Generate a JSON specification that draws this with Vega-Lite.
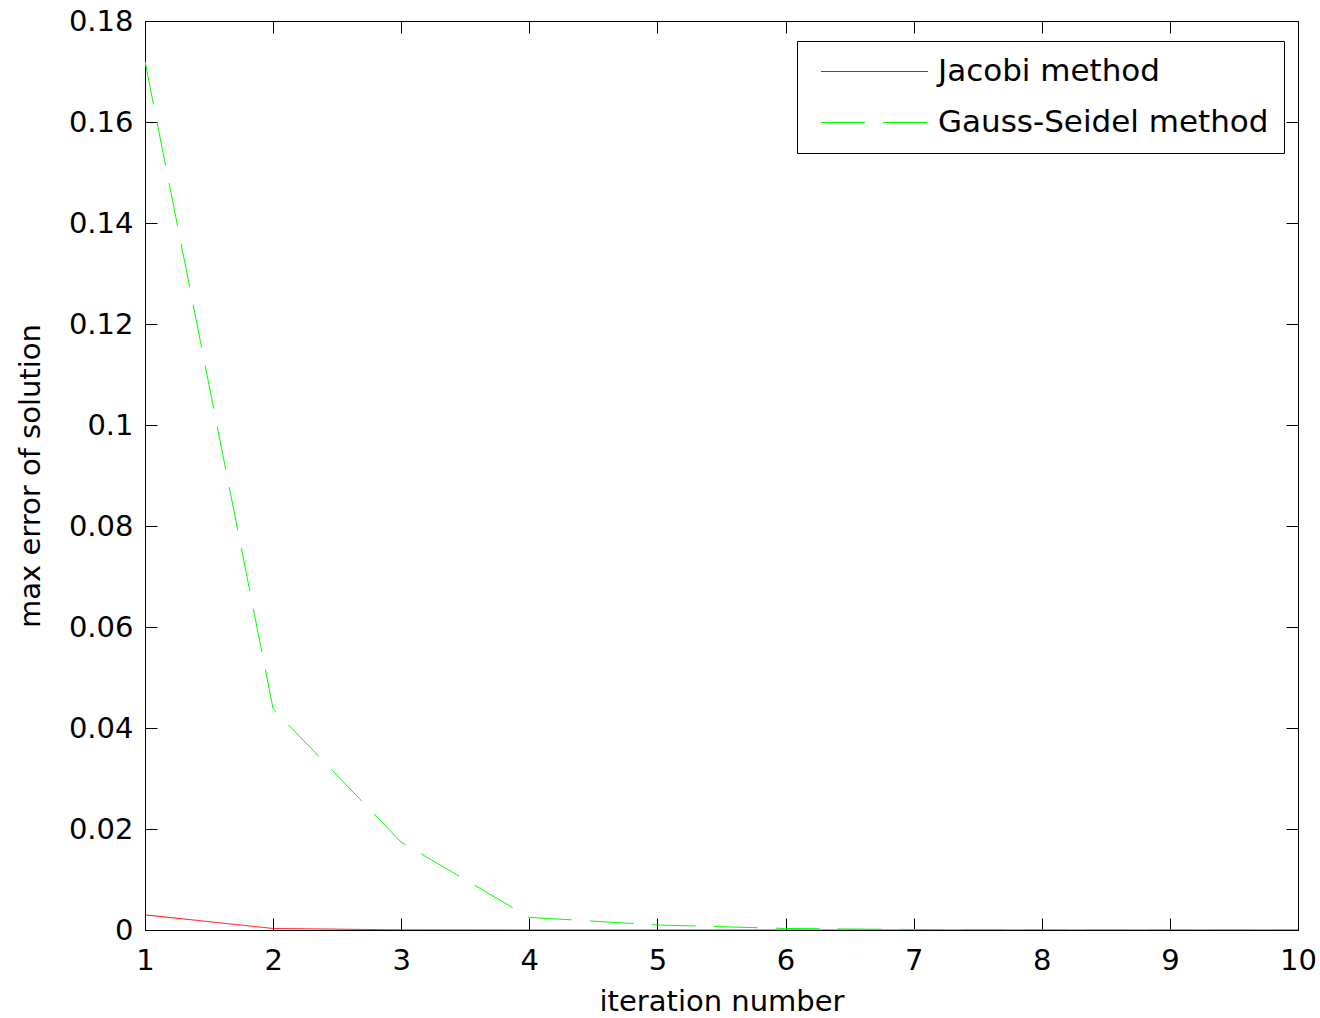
{
  "$schema": "https://vega.github.io/schema/vega-lite/v6.json",
  "width": 1153,
  "height": 909,
  "autosize": {"type": "none"},
  "padding": {"left": 145, "top": 21, "right": 22, "bottom": 88},
  "background": "white",
  "config": {
    "font": "DejaVu Sans",
    "view": {"stroke": "black", "strokeWidth": 1},
    "axis": {"grid": false, "domain": false, "tickColor": "black", "tickSize": -12, "labelFlush": false, "labelColor": "black", "labelFontSize": 29, "labelFont": "DejaVu Sans", "titleFont": "DejaVu Sans", "titleFontSize": 29, "titleFontWeight": "normal", "titleColor": "black"}
  },
  "data": {"values": [
    {"x": 1, "method": "Jacobi method", "v": 0.003},
    {"x": 2, "method": "Jacobi method", "v": 0.0003},
    {"x": 3, "method": "Jacobi method", "v": 0.00003},
    {"x": 4, "method": "Jacobi method", "v": 0.000005},
    {"x": 5, "method": "Jacobi method", "v": 0.000001},
    {"x": 6, "method": "Jacobi method", "v": 0.0000002},
    {"x": 7, "method": "Jacobi method", "v": 0.00000005},
    {"x": 8, "method": "Jacobi method", "v": 0.00000001},
    {"x": 9, "method": "Jacobi method", "v": 0.000000002},
    {"x": 10, "method": "Jacobi method", "v": 0.0000000005},
    {"x": 1, "method": "Gauss-Seidel method", "v": 0.172},
    {"x": 2, "method": "Gauss-Seidel method", "v": 0.0438},
    {"x": 3, "method": "Gauss-Seidel method", "v": 0.0174},
    {"x": 4, "method": "Gauss-Seidel method", "v": 0.0025},
    {"x": 5, "method": "Gauss-Seidel method", "v": 0.001},
    {"x": 6, "method": "Gauss-Seidel method", "v": 0.0003},
    {"x": 7, "method": "Gauss-Seidel method", "v": 0.0001},
    {"x": 8, "method": "Gauss-Seidel method", "v": 0.00003},
    {"x": 9, "method": "Gauss-Seidel method", "v": 0.00001},
    {"x": 10, "method": "Gauss-Seidel method", "v": 0.000003}
  ]},
  "layer": [
    {
      "mark": {"type": "line", "strokeWidth": 1, "clip": true},
      "encoding": {
        "x": {"field": "x", "type": "quantitative", "scale": {"domain": [1, 10], "nice": false, "zero": false}, "axis": {"values": [1,2,3,4,5,6,7,8,9,10], "title": "iteration number", "labelPadding": 28, "titlePadding": 12}},
        "y": {"field": "v", "type": "quantitative", "scale": {"domain": [0, 0.18], "nice": false}, "axis": {"values": [0,0.02,0.04,0.06,0.08,0.1,0.12,0.14,0.16,0.18], "format": "~g", "title": "max error of solution", "labelPadding": 24, "titlePadding": 23}},
        "color": {"field": "method", "type": "nominal", "scale": {"domain": ["Jacobi method", "Gauss-Seidel method"], "range": ["#ff0000", "#00ff00"]},
          "legend": {"title": null, "orient": "none", "legendX": 652, "legendY": 20, "strokeColor": "black", "fillColor": "white", "padding": 15, "symbolType": "M-4,0H4", "symbolSize": 715, "symbolStrokeWidth": 1, "symbolOffset": 47, "labelFontSize": 31, "labelColor": "black", "labelOffset": 48, "rowPadding": 19, "labelLimit": 0, "labelFont": "DejaVu Sans"}},
        "strokeDash": {"field": "method", "type": "nominal", "scale": {"domain": ["Jacobi method", "Gauss-Seidel method"], "range": [[1, 0], [44, 18]]}, "legend": null}
      }
    },
    {
      "mark": {"type": "line", "opacity": 0},
      "encoding": {
        "x": {"field": "x", "type": "quantitative", "scale": {"domain": [1, 10], "nice": false, "zero": false}, "axis": {"orient": "top", "values": [1,2,3,4,5,6,7,8,9,10], "labels": false, "title": null}},
        "y": {"field": "v", "type": "quantitative", "scale": {"domain": [0, 0.18], "nice": false}, "axis": {"orient": "right", "values": [0,0.02,0.04,0.06,0.08,0.1,0.12,0.14,0.16,0.18], "labels": false, "title": null}}
      }
    }
  ],
  "resolve": {"axis": {"x": "independent", "y": "independent"}}
}
